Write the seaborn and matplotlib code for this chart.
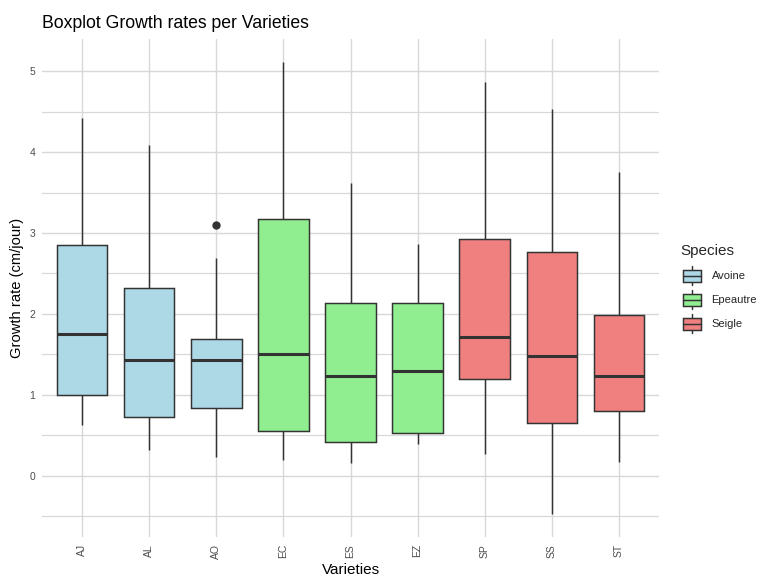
import numpy as np
import pandas as pd
import matplotlib
matplotlib.use("Agg")
import matplotlib.pyplot as plt
import seaborn as sns
from matplotlib.legend_handler import HandlerBase
from matplotlib.patches import Patch, Rectangle
from matplotlib.lines import Line2D

# Five-number summaries of growth rate (cm/jour) per variety
varieties = ["AJ", "AL", "AO", "EC", "ES", "EZ", "SP", "SS", "ST"]
species = ["Avoine", "Avoine", "Avoine",
           "Epeautre", "Epeautre", "Epeautre",
           "Seigle", "Seigle", "Seigle"]
lower = [0.63, 0.32, 0.23, 0.19, 0.16, 0.39, 0.27, -0.48, 0.17]
q1 = [1.00, 0.73, 0.84, 0.55, 0.41, 0.53, 1.19, 0.65, 0.80]
median = [1.75, 1.43, 1.43, 1.50, 1.23, 1.29, 1.72, 1.48, 1.23]
q3 = [2.85, 2.32, 1.69, 3.17, 2.13, 2.14, 2.93, 2.77, 1.99]
upper = [4.42, 4.09, 2.69, 5.12, 3.62, 2.86, 4.87, 4.53, 3.76]
outlier_variety = ["AO"]
outlier_value = [3.10]

species_levels = ["Avoine", "Epeautre", "Seigle"]
species_colors = ["#ADD8E6", "#90EE90", "#F08080"]

EDGE = "#333333"
LW = 1.07

# Long-form table whose quartiles/whiskers reproduce the summaries above
rows = []
for i, v in enumerate(varieties):
    vals = [lower[i], q1[i], q1[i], median[i], median[i], q3[i], q3[i], upper[i]]
    vals += [o for ov, o in zip(outlier_variety, outlier_value) if ov == v]
    for val in vals:
        rows.append({"Varieties": v, "Species": species[i], "Growth": val})
df = pd.DataFrame(rows)

sns.set_style("white")
plt.rcParams["font.family"] = ["Liberation Sans", "DejaVu Sans"]

W, H = 759, 575
fig = plt.figure(figsize=(W / 100, H / 100), dpi=100)
ax = fig.add_axes([42 / W, 1 - 537 / H, (659 - 42) / W, (537 - 39) / H])

palette = dict(zip(species_levels, species_colors))
sns.boxplot(
    data=df, x="Varieties", y="Growth", hue="Species",
    order=varieties, hue_order=species_levels, palette=palette,
    dodge=False, width=0.75, saturation=1, whis=1.5,
    linecolor=EDGE, linewidth=LW, showcaps=False,
    medianprops=dict(linewidth=2.2, color=EDGE),
    flierprops=dict(marker="o", markerfacecolor=EDGE, markeredgecolor=EDGE,
                    markersize=5),
    legend=False, ax=ax,
)

# Axis ranges: 0.6 category padding, 5% data padding
lo = min(lower + outlier_value)
hi = max(upper + outlier_value)
pad = 0.05 * (hi - lo)
ax.set_xlim(-0.6, len(varieties) - 0.4)
ax.set_ylim(lo - pad, hi + pad)

ax.set_yticks(np.arange(0, 6, 1))
ax.set_yticks(np.arange(-0.5, 5.0, 1), minor=True)
ax.set_yticklabels([str(t) for t in range(6)])
ax.set_axisbelow(True)
ax.grid(which="major", axis="both", color="#D8D8D8", linewidth=1.0)
ax.grid(which="minor", axis="y", color="#D8D8D8", linewidth=0.9)
for s in ax.spines.values():
    s.set_visible(False)

ax.tick_params(axis="both", which="both", length=0, labelsize=7.5,
               labelcolor="#4D4D4D")
ax.tick_params(axis="y", pad=5)
ax.tick_params(axis="x", pad=5, labelrotation=90)
ax.set_xlabel("")
ax.set_ylabel("")

fig.text(350.5 / W, 1 - 573.5 / H, "Varieties", ha="center", va="baseline",
         fontsize=11, color="black")
fig.text(17 / W, 1 - 288 / H, "Growth rate (cm/jour)", ha="center", va="center",
         rotation=90, fontsize=10.6, color="black")
fig.text(42 / W, 1 - 28.3 / H, "Boxplot Growth rates per Varieties",
         ha="left", va="baseline", fontsize=12.7, color="black")


class BoxKeyHandler(HandlerBase):
    def create_artists(self, legend, orig_handle, xdescent, ydescent,
                       width, height, fontsize, trans):
        x0, y0 = -xdescent, -ydescent
        cx = x0 + width / 2
        w1 = Line2D([cx, cx], [y0 + 0.1 * height, y0 + 0.25 * height],
                    color=EDGE, lw=LW, transform=trans)
        w2 = Line2D([cx, cx], [y0 + 0.75 * height, y0 + 0.9 * height],
                    color=EDGE, lw=LW, transform=trans)
        rect = Rectangle((x0 + 0.125 * width, y0 + 0.25 * height),
                         0.75 * width, 0.5 * height,
                         facecolor=orig_handle.get_facecolor(),
                         edgecolor=EDGE, linewidth=LW, transform=trans)
        med = Line2D([x0 + 0.125 * width, x0 + 0.875 * width],
                     [y0 + 0.5 * height] * 2, color=EDGE, lw=LW,
                     transform=trans)
        return [w1, w2, rect, med]


# Legend key cells of 17.28 pt square
LEG_FS = 8.0
key_pt = 17.28
hh = (key_pt / LEG_FS - 0.245) / 0.65
handles = [Patch(facecolor=c) for c in species_colors]
leg = fig.legend(
    handles, species_levels, title="Species",
    loc="center left", bbox_to_anchor=(680 / W, 1 - 290 / H),
    frameon=False, fontsize=LEG_FS, title_fontsize=11,
    handlelength=key_pt / LEG_FS, handleheight=hh, labelspacing=0,
    handletextpad=0.68, borderpad=0, borderaxespad=0,
    alignment="left", handler_map={Patch: BoxKeyHandler()},
)
leg._legend_box.sep = 4

fig.savefig("out.png", dpi=100)
